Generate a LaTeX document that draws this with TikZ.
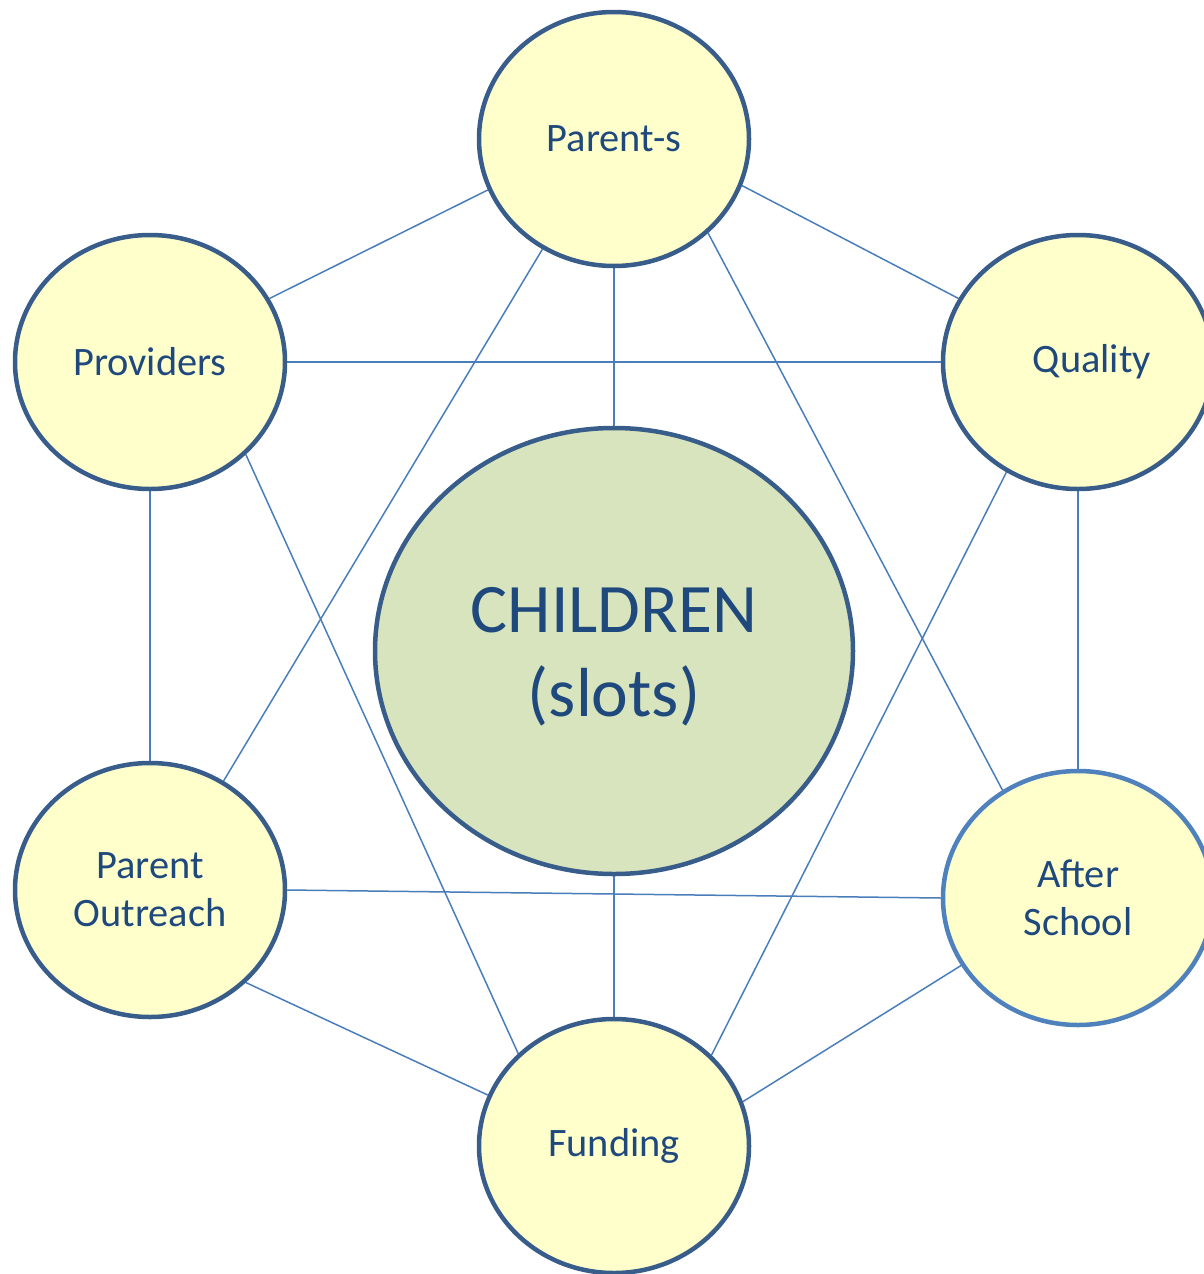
\documentclass[tikz,border=0pt]{standalone}
\usepackage{fontspec}
\setmainfont{Carlito}
\usetikzlibrary{shapes.geometric,backgrounds}
\definecolor{ringdark}{HTML}{385D8A}
\definecolor{ringlight}{HTML}{4F81BD}
\definecolor{linkblue}{HTML}{4A7EBB}
\definecolor{bubblefill}{HTML}{FFFFCC}
\definecolor{corefill}{HTML}{D7E4BD}
\definecolor{textblue}{HTML}{1F497D}
\begin{document}
\begin{tikzpicture}[x=1pt,y=-1pt,
  bubble/.style={ellipse,draw=ringdark,line width=4.5pt,fill=bubblefill,
    minimum width=270pt,minimum height=254pt,inner sep=0pt,align=center,
    text=textblue,font=\fontsize{40.4}{48}\selectfont},
  core/.style={ellipse,draw=ringdark,line width=4.5pt,fill=corefill,
    minimum width=478pt,minimum height=446pt,inner sep=0pt,align=center,
    text=textblue,font=\fontsize{69.5}{84}\selectfont},
  link/.style={draw=linkblue,line width=1.5pt}]
\useasboundingbox (0,0) rectangle (1204,1274);
\node[bubble] (parents) at (614,139) {Parent-s};
\node[bubble] (providers) at (150,362) {Providers};
\node[bubble] (quality) at (1078,362) {\hspace*{28pt}Quality};
\node[bubble] (outreach) at (150,890) {Parent\\Outreach};
\node[bubble,draw=ringlight] (after) at (1078,898) {After\\School};
\node[bubble] (funding) at (614,1146) {Funding};
\node[core] (children) at (614,651) {\rule{0pt}{57pt}CHILDREN\\(slots)};
\begin{pgfonlayer}{background}
\draw[link] (parents.202) -- (providers.28);
\draw[link] (parents.340.6) -- (quality.152.1);
\draw[link] (parents.270) -- (children.90);
\draw[link] (parents.237.4) -- (outreach.56.8);
\draw[link] (parents.315.9) -- (after.125.3);
\draw[link] (providers.0) -- (quality.180);
\draw[link] (providers.270) -- (outreach.90);
\draw[link] (providers.316.2) -- (funding.136.2);
\draw[link] (quality.270) -- (after.90);
\draw[link] (quality.237.3) -- (funding.43.2);
\draw[link] (outreach.0) -- (after.180);
\draw[link] (outreach.316.5) -- (funding.158);
\draw[link] (after.210.8) -- (funding.19.8);
\draw[link] (children.270) -- (funding.90);
\end{pgfonlayer}
\end{tikzpicture}
\end{document}
